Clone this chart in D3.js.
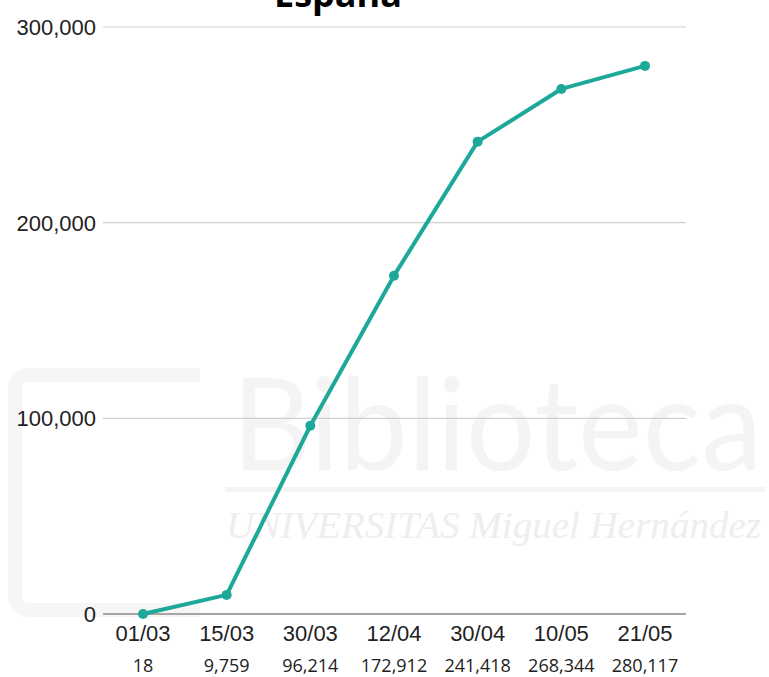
<!DOCTYPE html>
<html><head><meta charset="utf-8">
<script src="https://cdn.jsdelivr.net/npm/d3@7"></script>
<style>html,body{margin:0;padding:0;background:#fff;}svg{display:block;}</style>
</head><body>
<script>
const dates = ["01/03","15/03","30/03","12/04","30/04","10/05","21/05"];
const cases = [18, 9759, 96214, 172912, 241418, 268344, 280117];
const yTicks = [0, 100000, 200000, 300000];
const title = "España";

const W = 769, H = 677;
const svg = d3.select("body").append("svg").attr("width", W).attr("height", H);

// faint watermark
const wm = svg.append("g");
wm.append("path").attr("d","M200,375 H30 Q15,375 15,390 V595 Q15,610 30,610 H200").attr("fill","none").attr("stroke","#f6f6f6").attr("stroke-width",14);
wm.append("text").attr("x",232).attr("y",470).attr("font-family","Lato, sans-serif").attr("font-size",128)
  .attr("textLength",530).attr("lengthAdjust","spacingAndGlyphs").attr("fill","#f4f4f4").text("Biblioteca");
wm.append("rect").attr("x",225).attr("y",487).attr("width",540).attr("height",5).attr("fill","#f4f4f4");
wm.append("text").attr("x",226).attr("y",538).attr("font-family","Liberation Serif, serif").attr("font-size",38).attr("font-style","italic")
  .attr("textLength",535).attr("lengthAdjust","spacingAndGlyphs").attr("fill","#eeeeee").text("UNIVERSITAS Miguel Hernández");

const x = d3.scalePoint().domain(dates).range([143, 645]);
const y = d3.scaleLinear().domain([0, 300000]).range([614, 27]);

// gridlines
svg.append("g").selectAll("line").data(yTicks).join("line")
  .attr("x1", 103).attr("x2", 686)
  .attr("y1", d => y(d)).attr("y2", d => y(d))
  .attr("stroke", d => d === 0 ? "#a6a6a6" : "#cfcfcf")
  .attr("stroke-width", d => d === 0 ? 2 : 1.2);

// y labels
svg.append("g").selectAll("text").data(yTicks).join("text")
  .attr("x", 96).attr("y", d => y(d) + 8)
  .attr("text-anchor", "end")
  .attr("font-family", "Liberation Sans, Arial, sans-serif")
  .attr("font-size", 22).attr("fill", "#222")
  .text(d => d3.format(",")(d));

// x labels
svg.append("g").selectAll("text").data(dates).join("text")
  .attr("x", d => x(d)).attr("y", 641)
  .attr("text-anchor", "middle")
  .attr("font-family", "Liberation Sans, Arial, sans-serif")
  .attr("font-size", 22).attr("fill", "#222")
  .text(d => d);

// value labels
svg.append("g").selectAll("text").data(cases).join("text")
  .attr("x", (d, i) => x(dates[i])).attr("y", 672)
  .attr("text-anchor", "middle")
  .attr("font-family", "Open Sans, sans-serif")
  .attr("font-size", 18).attr("fill", "#222")
  .text(d => d3.format(",")(d));

// line
const line = d3.line().x((d, i) => x(dates[i])).y(d => y(d));
svg.append("path").datum(cases).attr("d", line)
  .attr("fill", "none").attr("stroke", "#1ea89a").attr("stroke-width", 4)
  .attr("stroke-linejoin", "round");
svg.append("g").selectAll("circle").data(cases).join("circle")
  .attr("cx", (d, i) => x(dates[i])).attr("cy", d => y(d)).attr("r", 5)
  .attr("fill", "#1ea89a");

// title (cut off at the top, as in the reference)
svg.append("text").attr("x", 338).attr("y", 7).attr("text-anchor", "middle")
  .attr("font-family", "Open Sans, sans-serif").attr("font-weight", 700)
  .attr("font-size", 36).attr("fill", "#000").text(title);
</script>
</body></html>
